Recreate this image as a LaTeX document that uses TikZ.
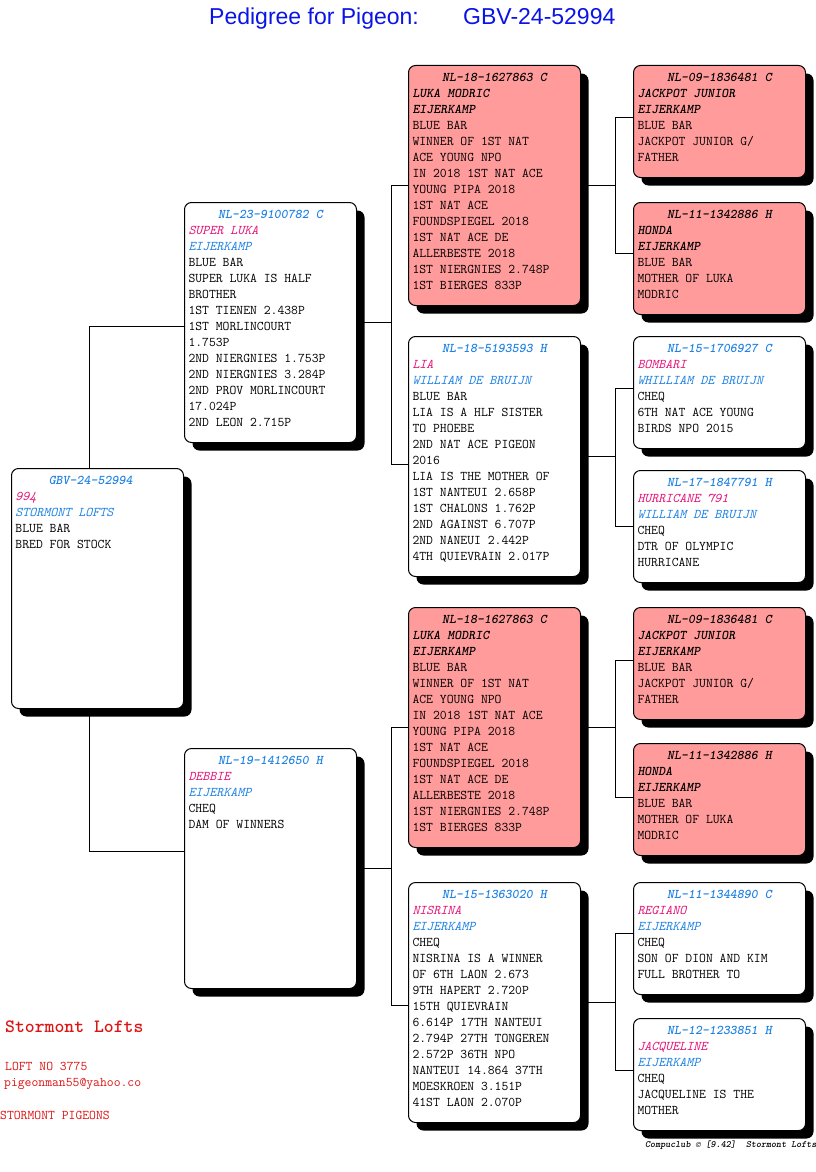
\documentclass[tikz,border=0pt]{standalone}
\usepackage{fontspec}
\setmainfont{Liberation Serif}
\newfontfamily\titlefont{Liberation Sans}
\usetikzlibrary{shadows}
\definecolor{hblue}{RGB}{30,130,228}
\definecolor{npink}{RGB}{228,20,120}
\definecolor{redfill}{RGB}{255,155,155}
\definecolor{tblue}{RGB}{10,20,230}
\definecolor{lred}{RGB}{222,20,20}
\newcommand\phdr[1]{\hbox to \hsize{\hss\rule{0pt}{12pt}#1\hss}}
\newcommand\pl[1]{\hbox{#1}}
\newcommand\hb[1]{{\color{hblue}\bfseries\itshape #1}}
\newcommand\hk[1]{{\bfseries\itshape #1}}
\newcommand\nmp[1]{{\color{npink}\itshape #1}}
\newcommand\brb[1]{{\color{hblue}\itshape #1}}
\newcommand\bigt[1]{\parbox[t][232pt][t]{164pt}{\baselineskip=16pt\relax #1}}
\newcommand\smlt[1]{\parbox[t][104pt][t]{164pt}{\baselineskip=16pt\relax #1}}
\newcommand\lukatext{\bigt{\phdr{\hk{NL-18-1627863 C}}\pl{\hk{LUKA MODRIC}}\pl{\hk{EIJERKAMP}}\pl{BLUE BAR}\pl{WINNER OF 1ST NAT}\pl{ACE YOUNG NPO}\pl{IN 2018 1ST NAT ACE}\pl{YOUNG PIPA 2018}\pl{1ST NAT ACE}\pl{FOUNDSPIEGEL 2018}\pl{1ST NAT ACE DE}\pl{ALLERBESTE 2018}\pl{1ST NIERGNIES 2.748P}\pl{1ST BIERGES 833P}}}
\newcommand\jackpottext{\smlt{\phdr{\hk{NL-09-1836481 C}}\pl{\hk{JACKPOT JUNIOR}}\pl{\hk{EIJERKAMP}}\pl{BLUE BAR}\pl{JACKPOT JUNIOR G/}\pl{FATHER}}}
\newcommand\hondatext{\smlt{\phdr{\hk{NL-11-1342886 H}}\pl{\hk{HONDA}}\pl{\hk{EIJERKAMP}}\pl{BLUE BAR}\pl{MOTHER OF LUKA}\pl{MODRIC}}}
\tikzset{
  pbox/.style={draw, line width=1pt, rounded corners=7pt, fill=white, inner sep=4pt,
    anchor=north west, drop shadow={shadow xshift=8pt, shadow yshift=-8pt, fill=black, opacity=1},
    font=\ttfamily\fontsize{13.3}{16}\selectfont},
  rbox/.style={pbox, fill=redfill},
  link/.style={line width=1pt},
  foot/.style={inner sep=0pt, anchor=base west, text=lred, font=\ttfamily\fontsize{13.3}{14}\selectfont}
}
\begin{document}
\begin{tikzpicture}[x=1pt, y=-1pt]
\useasboundingbox[fill=white] (0,0) rectangle (816,1172);
% title
\node[inner sep=0pt, anchor=base west, text=tblue, font=\titlefont\fontsize{23}{23}\selectfont] (titleA) at (209,25) {Pedigree for Pigeon:};
\node[inner sep=0pt, anchor=base west, text=tblue, font=\titlefont\fontsize{23}{23}\selectfont] (titleB) at (463,25) {GBV-24-52994};
% generation 1
\node[pbox] (root) at (11,468) {\bigt{\phdr{\hb{GBV-24-52994}\phantom{xx}}\pl{\nmp{994}}\pl{\brb{STORMONT LOFTS}}\pl{BLUE BAR}\pl{BRED FOR STOCK}}};
% generation 2
\node[pbox] (sire) at (184,202) {\bigt{\phdr{\hb{NL-23-9100782 C}}\pl{\nmp{SUPER LUKA}}\pl{\brb{EIJERKAMP}}\pl{BLUE BAR}\pl{SUPER LUKA IS HALF}\pl{BROTHER}\pl{1ST TIENEN 2.438P}\pl{1ST MORLINCOURT}\pl{1.753P}\pl{2ND NIERGNIES 1.753P}\pl{2ND NIERGNIES 3.284P}\pl{2ND PROV MORLINCOURT}\pl{17.024P}\pl{2ND LEON 2.715P}}};
\node[pbox] (dam) at (184,748) {\bigt{\phdr{\hb{NL-19-1412650 H}}\pl{\nmp{DEBBIE}}\pl{\brb{EIJERKAMP}}\pl{CHEQ}\pl{DAM OF WINNERS}}};
% generation 3
\node[rbox] (ss) at (408,65) {\lukatext};
\node[pbox] (sd) at (408,336) {\bigt{\phdr{\hb{NL-18-5193593 H}}\pl{\nmp{LIA}}\pl{\brb{WILLIAM DE BRUIJN}}\pl{BLUE BAR}\pl{LIA IS A HLF SISTER}\pl{TO PHOEBE}\pl{2ND NAT ACE PIGEON}\pl{2016}\pl{LIA IS THE MOTHER OF}\pl{1ST NANTEUI 2.658P}\pl{1ST CHALONS 1.762P}\pl{2ND AGAINST 6.707P}\pl{2ND NANEUI 2.442P}\pl{4TH QUIEVRAIN 2.017P}}};
\node[rbox] (ds) at (408,607) {\lukatext};
\node[pbox] (dd) at (408,882) {\bigt{\phdr{\hb{NL-15-1363020 H}}\pl{\nmp{NISRINA}}\pl{\brb{EIJERKAMP}}\pl{CHEQ}\pl{NISRINA IS A WINNER}\pl{OF 6TH LAON 2.673}\pl{9TH HAPERT 2.720P}\pl{15TH QUIEVRAIN}\pl{6.614P 17TH NANTEUI}\pl{2.794P 27TH TONGEREN}\pl{2.572P 36TH NPO}\pl{NANTEUI 14.864 37TH}\pl{MOESKROEN 3.151P}\pl{41ST LAON 2.070P}}};
% generation 4
\node[rbox] (sss) at (633,65) {\jackpottext};
\node[rbox] (ssd) at (633,202) {\hondatext};
\node[pbox] (sds) at (633,336) {\smlt{\phdr{\hb{NL-15-1706927 C}}\pl{\nmp{BOMBARI}}\pl{\brb{WHILLIAM DE BRUIJN}}\pl{CHEQ}\pl{6TH NAT ACE YOUNG}\pl{BIRDS NPO 2015}}};
\node[pbox] (sdd) at (633,470) {\smlt{\phdr{\hb{NL-17-1847791 H}}\pl{\nmp{HURRICANE 791}}\pl{\brb{WILLIAM DE BRUIJN}}\pl{CHEQ}\pl{DTR OF OLYMPIC}\pl{HURRICANE}}};
\node[rbox] (dss) at (633,607) {\jackpottext};
\node[rbox] (dsd) at (633,743) {\hondatext};
\node[pbox] (dds) at (633,882) {\smlt{\phdr{\hb{NL-11-1344890 C}}\pl{\nmp{REGIANO}}\pl{\brb{EIJERKAMP}}\pl{CHEQ}\pl{SON OF DION AND KIM}\pl{FULL BROTHER TO}}};
\node[pbox] (ddd) at (633,1018) {\smlt{\phdr{\hb{NL-12-1233851 H}}\pl{\nmp{JACQUELINE}}\pl{\brb{EIJERKAMP}}\pl{CHEQ}\pl{JACQUELINE IS THE}\pl{MOTHER}}};
% junction columns
\coordinate (jr) at (89,0);
\coordinate (j2) at (391,0);
\coordinate (j3) at (615,0);
% connectors
\draw[link] (root.north -| jr) |- ([yshift=-4pt]sire.west);
\draw[link] (root.south -| jr) |- ([yshift=17pt]dam.west);
\draw[link] (sire.east) -- (sire.east -| j2);
\draw[link] (ss.west) -| (j2 |- sire.east);
\draw[link] ([yshift=-8pt]sd.west) -| (j2 |- sire.east);
\draw[link] (dam.east) -- (dam.east -| j2);
\draw[link] (ds.west) -| (j2 |- dam.east);
\draw[link] ([yshift=-3pt]dd.west) -| (j2 |- dam.east);
\draw[link] (ss.east) -- (ss.east -| j3);
\draw[link] ([yshift=4pt]sss.west) -| (j3 |- ss.east);
\draw[link] ([yshift=5pt]ssd.west) -| (j3 |- ss.east);
\draw[link] (sd.east) -- (sd.east -| j3);
\draw[link] ([yshift=4pt]sds.west) -| (j3 |- sd.east);
\draw[link] (sdd.west) -| (j3 |- sd.east);
\draw[link] (ds.east) -- (ds.east -| j3);
\draw[link] ([yshift=3pt]dss.west) -| (j3 |- ds.east);
\draw[link] ([yshift=2pt]dsd.west) -| (j3 |- ds.east);
\draw[link] (dd.east) -- (dd.east -| j3);
\draw[link] ([yshift=5pt]dds.west) -| (j3 |- dd.east);
\draw[link] ([yshift=4pt]ddd.west) -| (j3 |- dd.east);
% footer texts
\node[foot, font=\ttfamily\bfseries\fontsize{18.8}{20}\selectfont] (loftname) at (5,1032) {Stormont Lofts};
\node[foot] (loftno) at (5,1070) {LOFT NO 3775};
\node[foot] (mail) at (4,1086) {pigeonman55@yahoo.co};
\node[foot] (pigeons) at (0,1119) {STORMONT PIGEONS};
\node[inner sep=0pt, anchor=base west, font=\ttfamily\bfseries\itshape\fontsize{9.6}{10}\selectfont] (credit) at (645,1147) {Compuclub \textcopyright{} [9.42]\ \ Stormont Lofts};
\end{tikzpicture}
\end{document}
